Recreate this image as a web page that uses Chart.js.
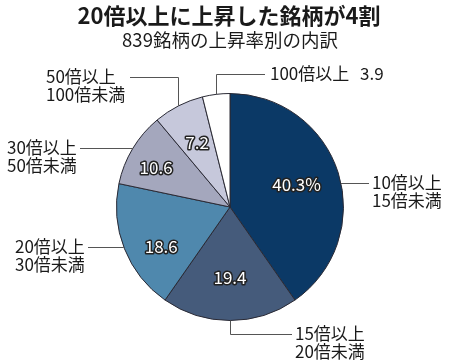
<!DOCTYPE html>
<html>
<head>
<meta charset="utf-8">
<script src="https://cdn.jsdelivr.net/npm/chart.js@4/dist/chart.umd.min.js"></script>
<style>
  html, body { margin: 0; padding: 0; background: #fff; }
  canvas { display: block; }
</style>
</head>
<body>
<canvas id="c" width="450" height="364"></canvas>
<script>
// ---- data ----
const titleText = '20倍以上に上昇した銘柄が4割';
const subtitleText = '839銘柄の上昇率別の内訳';
const categories = [
  ['10倍以上', '15倍未満'],
  ['15倍以上', '20倍未満'],
  ['20倍以上', '30倍未満'],
  ['30倍以上', '50倍未満'],
  ['50倍以上', '100倍未満'],
  ['100倍以上']
];
const shares = [40.3, 19.4, 18.6, 10.6, 7.2, 3.9];
const valueLabels = ['40.3%', '19.4', '18.6', '10.6', '7.2', '3.9'];

// ---- styles ----
const colors = ['#0b3966', '#455b7b', '#4f88ad', '#a4a7bd', '#c6c8db', '#ffffff'];
const FONT = "'Noto Sans CJK JP', 'Noto Sans', sans-serif";

// label layout (text anchor, leader kind)
const catLayout = [
  { x: 372, y: 183, leader: 'h', lineEnd: 369 },
  { x: 295, y: 334, leader: 'elbow', lineEnd: 292 },
  { x: 15,  y: 247, leader: 'h', lineEnd: 88 },
  { x: 7,   y: 148, leader: 'h', lineEnd: 80 },
  { x: 46,  y: 77,  leader: 'elbow', lineEnd: 130 },
  { x: 270, y: 74,  leader: 'elbow', lineEnd: 265, valueX: 360 }
];
// in-slice label placement: radius fraction, angle nudge (deg)
const valPlace = [[0.62, -1.5], [0.62, 0], [0.70, -8.5], [0.74, -2.6], [0.64, 0], null];

const overlay = {
  id: 'overlay',
  beforeDraw(chart) {
    const ctx = chart.ctx;
    ctx.save();
    ctx.fillStyle = '#fff';
    ctx.fillRect(0, 0, chart.width, chart.height);
    ctx.restore();
  },
  afterDraw(chart) {
    const ctx = chart.ctx;
    const arcs = chart.getDatasetMeta(0).data;
    ctx.save();
    // titles
    ctx.fillStyle = '#1a1a1a';
    ctx.textAlign = 'center';
    ctx.textBaseline = 'middle';
    ctx.font = 'bold 22px ' + FONT;
    ctx.fillText(titleText, 229, 16);
    ctx.font = '18.5px ' + FONT;
    ctx.fillText(subtitleText, 230, 40);

    // leaders + category labels
    arcs.forEach((arc, i) => {
      const L = catLayout[i];
      const cx = arc.x, cy = arc.y, R = arc.outerRadius;
      const mid = (arc.startAngle + arc.endAngle) / 2;
      ctx.strokeStyle = '#555';
      ctx.lineWidth = 1;
      ctx.beginPath();
      if (L.leader === 'h') {
        const dy = L.y - cy;
        const dx = Math.sqrt(Math.max(R * R - dy * dy, 0));
        const ex = L.lineEnd > cx ? cx + dx : cx - dx;
        ctx.moveTo(ex, L.y + 0.5);
        ctx.lineTo(L.lineEnd, L.y + 0.5);
      } else {
        const px = Math.round(cx + R * Math.cos(mid)) + 0.5;
        const py = cy + R * Math.sin(mid);
        ctx.moveTo(px, py);
        ctx.lineTo(px, L.y + 0.5);
        ctx.lineTo(L.lineEnd, L.y + 0.5);
      }
      ctx.stroke();

      ctx.fillStyle = '#1a1a1a';
      ctx.font = '17px ' + FONT;
      ctx.textAlign = 'left';
      ctx.textBaseline = 'middle';
      const lines = categories[i];
      lines.forEach((t, k) => ctx.fillText(t, L.x, L.y + k * 18));
      if (L.valueX) {
        ctx.fillText(valueLabels[i], L.valueX, L.y);
      }

      // value label inside slice
      const vp = valPlace[i];
      if (vp) {
        const a = mid + vp[1] * Math.PI / 180;
        const r = R * vp[0];
        const tx = cx + r * Math.cos(a);
        const ty = cy + r * Math.sin(a);
        ctx.font = '17px ' + FONT;
        ctx.textAlign = 'center';
        ctx.textBaseline = 'middle';
        ctx.lineJoin = 'round';
        ctx.lineWidth = 3;
        ctx.strokeStyle = '#222';
        ctx.strokeText(valueLabels[i], tx, ty);
        ctx.fillStyle = '#fff';
        ctx.fillText(valueLabels[i], tx, ty);
      }
    });
    ctx.restore();
  }
};

new Chart(document.getElementById('c'), {
  type: 'pie',
  data: {
    labels: categories.map(c => c.join('')),
    datasets: [{
      data: shares,
      backgroundColor: colors,
      borderColor: '#2a2a35',
      borderWidth: 1
    }]
  },
  options: {
    responsive: false,
    animation: false,
    layout: { padding: { top: 93, bottom: 43, left: 116, right: 106 } },
    plugins: {
      legend: { display: false },
      tooltip: { enabled: false },
      title: { display: false }
    }
  },
  plugins: [overlay]
});
</script>
</body>
</html>
